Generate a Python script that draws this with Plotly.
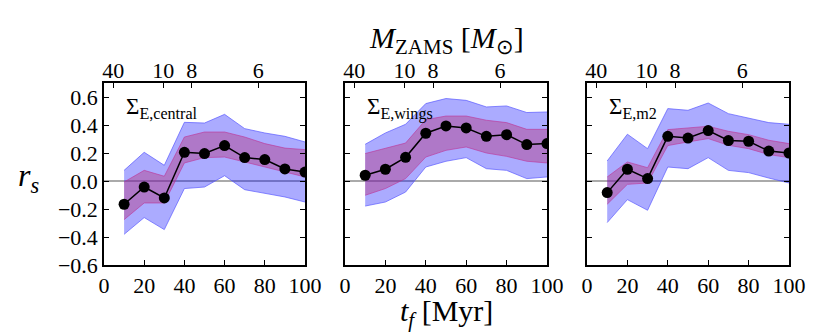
import plotly.graph_objects as go

# time after formation (Myr)
t_f = [10, 20, 30, 40, 50, 60, 70, 80, 90, 100]

panel_labels = ["Σ<sub>E,central</sub>", "Σ<sub>E,wings</sub>", "Σ<sub>E,m2</sub>"]

# correlation coefficient r_s per panel
rs_central = [-0.166, -0.043, -0.121, 0.205, 0.196, 0.253, 0.167, 0.153, 0.086, 0.064]
rs_wings = [0.041, 0.084, 0.169, 0.341, 0.393, 0.379, 0.319, 0.331, 0.260, 0.267]
rs_m2 = [-0.083, 0.084, 0.017, 0.319, 0.307, 0.360, 0.289, 0.284, 0.214, 0.200]

# inner (purple) band
in_hi_central = [-0.007, 0.076, 0.034, 0.314, 0.350, 0.350, 0.314, 0.267, 0.235, 0.224]
in_lo_central = [-0.276, -0.157, -0.157, 0.129, 0.167, 0.171, 0.136, 0.100, 0.064, 0.029]
in_hi_wings = [0.196, 0.231, 0.271, 0.438, 0.464, 0.464, 0.434, 0.417, 0.369, 0.369]
in_lo_wings = [-0.102, -0.054, 0.017, 0.171, 0.219, 0.243, 0.200, 0.176, 0.141, 0.129]
in_hi_m2 = [0.029, 0.136, 0.095, 0.367, 0.379, 0.391, 0.355, 0.331, 0.291, 0.267]
in_lo_m2 = [-0.166, -0.024, -0.014, 0.253, 0.279, 0.303, 0.255, 0.231, 0.189, 0.167]

# outer (blue) band
out_hi_central = [0.076, 0.205, 0.112, 0.419, 0.414, 0.476, 0.374, 0.343, 0.319, 0.279]
out_lo_central = [-0.381, -0.261, -0.347, -0.054, -0.043, 0.038, -0.062, -0.086, -0.114, -0.150]
out_hi_wings = [0.262, 0.343, 0.405, 0.553, 0.589, 0.576, 0.529, 0.536, 0.489, 0.493]
out_lo_wings = [-0.179, -0.150, -0.079, 0.100, 0.141, 0.167, 0.088, 0.076, 0.017, 0.029]
out_hi_m2 = [0.143, 0.334, 0.231, 0.517, 0.505, 0.557, 0.481, 0.450, 0.417, 0.405]
out_lo_m2 = [-0.297, -0.133, -0.209, 0.100, 0.088, 0.167, 0.076, 0.060, 0.021, -0.014]

# top axis: ZAMS mass at the corresponding lifetime
mass_tick_t = [4.6, 29.5, 43.6, 76.8]
mass_tick_text = ["40", "10", "8", "6"]

bottom_ticks = [0, 20, 40, 60, 80, 100]
y_ticks = [-0.6, -0.4, -0.2, 0.0, 0.2, 0.4, 0.6]

panels = [
    (rs_central, in_lo_central, in_hi_central, out_lo_central, out_hi_central),
    (rs_wings, in_lo_wings, in_hi_wings, out_lo_wings, out_hi_wings),
    (rs_m2, in_lo_m2, in_hi_m2, out_lo_m2, out_hi_m2),
]

FONT = "Liberation Serif"
domains = [[0.0, 0.2934], [0.3518, 0.6467], [0.7051, 1.0]]

fig = go.Figure()

for i, (rs, ilo, ihi, olo, ohi) in enumerate(panels):
    xa = "x" if i == 0 else f"x{i + 1}"
    ya = "y" if i == 0 else f"y{i + 1}"
    fig.add_trace(go.Scatter(x=t_f, y=olo, mode="lines", xaxis=xa, yaxis=ya,
                             line=dict(color="rgba(90,90,255,0.7)", width=1)))
    fig.add_trace(go.Scatter(x=t_f, y=ohi, mode="lines", xaxis=xa, yaxis=ya, fill="tonexty",
                             fillcolor="rgba(0,0,255,0.33)",
                             line=dict(color="rgba(90,90,255,0.7)", width=1)))
    fig.add_trace(go.Scatter(x=t_f, y=ilo, mode="lines", xaxis=xa, yaxis=ya,
                             line=dict(color="rgba(190,50,150,0.6)", width=1)))
    fig.add_trace(go.Scatter(x=t_f, y=ihi, mode="lines", xaxis=xa, yaxis=ya, fill="tonexty",
                             fillcolor="rgba(182,45,117,0.4)",
                             line=dict(color="rgba(190,50,150,0.6)", width=1)))
    fig.add_trace(go.Scatter(x=t_f, y=rs, mode="lines+markers", xaxis=xa, yaxis=ya,
                             line=dict(color="black", width=1.5),
                             marker=dict(color="black", size=11)))
    # invisible trace so the top (mass) axis gets drawn
    fig.add_trace(go.Scatter(x=mass_tick_t, y=[0] * len(mass_tick_t), mode="markers",
                             xaxis=f"x{i + 4}", yaxis=ya, marker=dict(opacity=0),
                             hoverinfo="skip"))
    fig.add_annotation(text=panel_labels[i], xref=f"{xa} domain", yref=f"{ya} domain",
                       x=0.1, y=0.95, xanchor="left", yanchor="top", showarrow=False,
                       font=dict(family=FONT, size=23, color="black"))

axis_common = dict(showline=True, linecolor="black", linewidth=1.5, ticks="inside",
                   tickcolor="black", ticklen=5, showgrid=False, automargin=False,
                   tickfont=dict(family=FONT, size=22, color="black"))

layout = {}
for i in range(3):
    n = "" if i == 0 else str(i + 1)
    layout[f"xaxis{n}"] = dict(axis_common, domain=domains[i], range=[0, 100],
                               tickvals=bottom_ticks, mirror=True, zeroline=False,
                               anchor=f"y{n}")
    layout[f"yaxis{n}"] = dict(axis_common, range=[-0.6, 0.7], tickvals=y_ticks,
                               tickformat=".1f", mirror="ticks", showticklabels=(i == 0),
                               zeroline=True, zerolinecolor="#aaaaaa", zerolinewidth=1.5,
                               anchor=f"x{n}")
    layout[f"xaxis{i + 4}"] = dict(domain=domains[i], range=[0, 100], overlaying=f"x{n}",
                                   side="top", anchor=f"y{n}", tickvals=mass_tick_t,
                                   ticktext=mass_tick_text, ticks="inside", ticklen=5,
                                   tickcolor="black", showline=False, showgrid=False,
                                   zeroline=False, automargin=False,
                                   tickfont=dict(family=FONT, size=22, color="black"))

fig.update_layout(**layout)

# top and bottom titles, shared y label
fig.add_annotation(text="<i>M</i><sub>ZAMS</sub> [<i>M</i><sub>⊙</sub>]", xref="paper", yref="paper",
                   x=0.5, y=1.0, yshift=43, xanchor="center", yanchor="middle", showarrow=False,
                   font=dict(family=FONT, size=30, color="black"))
fig.add_annotation(text="<i>t<sub>f</sub></i> [Myr]", xref="paper", yref="paper",
                   x=0.5, y=0.0, yshift=-48, xanchor="center", yanchor="middle", showarrow=False,
                   font=dict(family=FONT, size=30, color="black"))
fig.add_annotation(text="<i>r<sub>s</sub></i>", xref="paper", yref="paper",
                   x=0.0, xshift=-76, y=0.48, xanchor="center", yanchor="middle", showarrow=False,
                   font=dict(family=FONT, size=32, color="black"))

# the page body adds an 8px offset, so the figure is 8px smaller than the window
fig.update_layout(width=822, height=324, showlegend=False,
                  font=dict(family=FONT, color="black"),
                  margin=dict(l=96, r=41, t=75, b=67),
                  paper_bgcolor="white", plot_bgcolor="white")

fig.write_html("out.html")
